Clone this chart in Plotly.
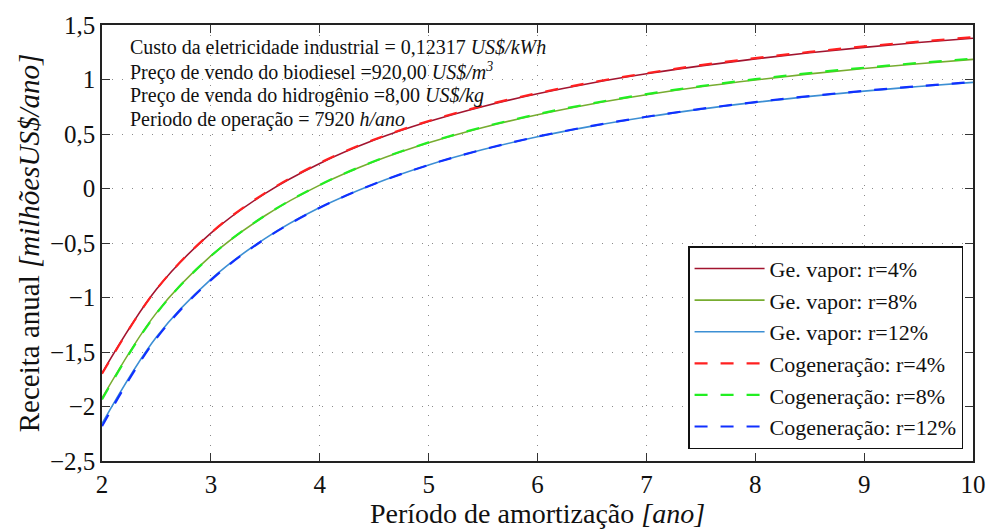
import plotly.graph_objects as go

# Período de amortização [ano]
periodo = [2, 2.5, 3, 3.5, 4, 4.5, 5, 5.5, 6, 6.5, 7, 7.5, 8, 8.5, 9, 9.5, 10]

# Receita anual [milhões US$/ano] - gerador de vapor
vapor_r4 = [-1.693, -0.924, -0.410, -0.044, 0.230, 0.444, 0.614, 0.753, 0.869,
            0.968, 1.052, 1.125, 1.189, 1.245, 1.295, 1.339, 1.379]
vapor_r8 = [-1.924, -1.141, -0.619, -0.248, 0.031, 0.247, 0.419, 0.560, 0.677,
            0.776, 0.860, 0.933, 0.996, 1.052, 1.101, 1.145, 1.185]
vapor_r12 = [-2.157, -1.362, -0.833, -0.457, -0.175, 0.042, 0.216, 0.357, 0.474,
             0.572, 0.656, 0.728, 0.790, 0.845, 0.893, 0.936, 0.974]

# Receita anual [milhões US$/ano] - cogeneração
cogen_r4 = [-1.700, -0.925, -0.408, -0.040, 0.234, 0.449, 0.619, 0.759, 0.875,
            0.974, 1.058, 1.132, 1.196, 1.253, 1.303, 1.347, 1.388]
cogen_r8 = [-1.935, -1.146, -0.620, -0.247, 0.033, 0.250, 0.423, 0.564, 0.682,
            0.781, 0.866, 0.939, 1.003, 1.059, 1.108, 1.152, 1.192]
cogen_r12 = [-2.180, -1.374, -0.840, -0.461, -0.177, 0.041, 0.216, 0.358, 0.476,
             0.574, 0.658, 0.730, 0.793, 0.848, 0.896, 0.939, 0.978]

x_ticks = [2, 3, 4, 5, 6, 7, 8, 9, 10]
x_ticktext = ["2", "3", "4", "5", "6", "7", "8", "9", "10"]
y_ticks = [-2.5, -2, -1.5, -1, -0.5, 0, 0.5, 1, 1.5]
y_ticktext = ["\u22122,5", "\u22122", "\u22121,5", "\u22121", "\u22120,5", "0", "0,5", "1", "1,5"]

series = [
    ("Ge. vapor: r=4%", vapor_r4, "#A2142F", "solid", 1.6),
    ("Ge. vapor: r=8%", vapor_r8, "#77AC30", "solid", 1.6),
    ("Ge. vapor: r=12%", vapor_r12, "#3C8FD4", "solid", 1.6),
    ("Cogeneração: r=4%", cogen_r4, "#FF2020", "13px,13px", 2.2),
    ("Cogeneração: r=8%", cogen_r8, "#22EE22", "13px,13px", 2.2),
    ("Cogeneração: r=12%", cogen_r12, "#1030FF", "13px,13px", 2.2),
]

FONT = "'Liberation Serif', 'Times New Roman', serif"

fig = go.Figure()
for name, vals, color, dash, width in series:
    fig.add_trace(go.Scatter(
        x=periodo, y=vals, name=name, mode="lines",
        line=dict(color=color, dash=dash, width=width, shape="spline", smoothing=1.0),
    ))

axis_common = dict(
    showline=True, linecolor="#222", linewidth=1.5, mirror="ticks",
    ticks="inside", ticklen=8, tickcolor="#333", tickwidth=1.2,
    showgrid=True, gridcolor="#8a8a8a", gridwidth=1, griddash="1px,9px",
    zeroline=False, tickfont=dict(family=FONT, size=25, color="#111"),
)

fig.update_xaxes(
    range=[2, 10], tickvals=x_ticks, ticktext=x_ticktext,
    title=dict(text="Período de amortização <i>[ano]</i>",
               font=dict(family=FONT, size=28, color="#111"), standoff=2),
    **axis_common,
)
fig.update_yaxes(
    range=[-2.5, 1.5], tickvals=y_ticks, ticktext=y_ticktext,
    title=dict(text="Receita anual <i>[milhõesUS$/ano]</i>",
               font=dict(family=FONT, size=29, color="#111"), standoff=2),
    **axis_common,
)

notes = [
    "Custo da eletricidade industrial = 0,12317 <i>US$/kWh</i>",
    "Preço de vendo do biodiesel =920,00 <i>US$/m<sup>3</sup></i>",
    "Preço de venda do hidrogênio =8,00 <i>US$/kg</i>",
    "Periodo de operação = 7920 <i>h/ano</i>",
]
note_y = [42, 67, 92, 116]
for txt, py in zip(notes, note_y):
    fig.add_annotation(
        text=txt, xref="paper", yref="paper",
        x=(128 - 102) / 877, y=1 - (py - 20) / 444,
        xanchor="left", yanchor="middle", showarrow=False,
        font=dict(family=FONT, size=20, color="#111"),
    )

fig.update_layout(
    width=998, height=531,
    margin=dict(l=102, r=19, t=20, b=67),
    paper_bgcolor="white", plot_bgcolor="white",
    showlegend=True,
    legend=dict(
        x=(969 - 102) / 877, y=(464 - 452) / 444, xanchor="right", yanchor="bottom",
        bgcolor="white", bordercolor="#111", borderwidth=1.5,
        font=dict(family=FONT, size=22, color="#111"),
        itemwidth=70, tracegroupgap=0,
    ),
)

fig.write_html("out.html")
